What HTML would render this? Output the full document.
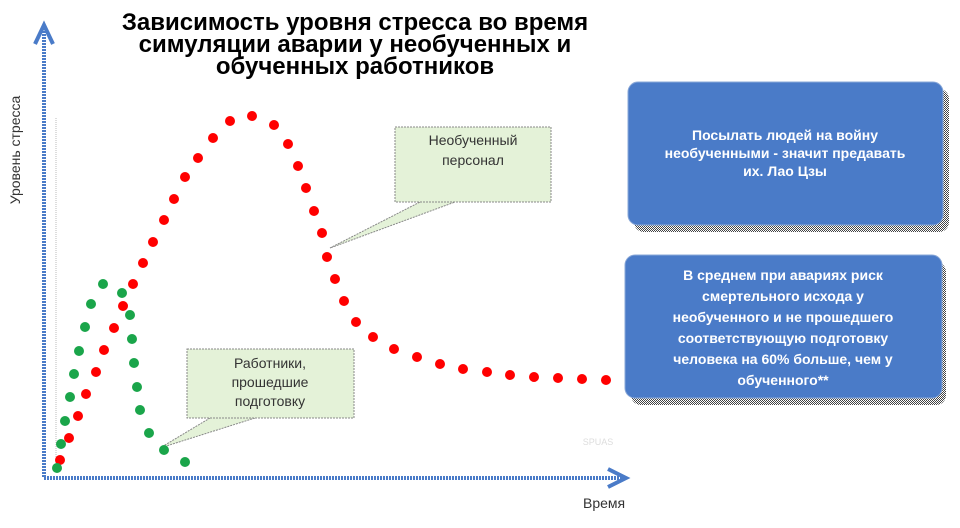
<!DOCTYPE html>
<html><head><meta charset="utf-8"><style>
body{margin:0;background:#fff;width:960px;height:523px;overflow:hidden;font-family:"Liberation Sans",sans-serif}
</style></head><body>
<svg width="960" height="523" xmlns="http://www.w3.org/2000/svg" font-family="Liberation Sans, sans-serif">
<defs>
<pattern id="dith" width="2" height="2" patternUnits="userSpaceOnUse"><rect width="1" height="1" fill="#444"/><rect x="1" y="1" width="1" height="1" fill="#444"/></pattern>
</defs>
<text x="355" y="30" text-anchor="middle" font-size="24" font-weight="bold" fill="#000">Зависимость уровня стресса во время</text>
<text x="355" y="52" text-anchor="middle" font-size="24" font-weight="bold" fill="#000">симуляции аварии у необученных и</text>
<text x="355" y="74" text-anchor="middle" font-size="24" font-weight="bold" fill="#000">обученных работников</text>
<text transform="translate(20,150) rotate(-90)" text-anchor="middle" font-size="14" fill="#333">Уровень стресса</text>
<text x="583" y="508" font-size="14" fill="#333">Время</text>
<line x1="56" y1="118" x2="56" y2="470" stroke="#bbb" stroke-width="1" stroke-dasharray="1,1"/>
<line x1="44" y1="28" x2="44" y2="478" stroke="#4a7bc8" stroke-width="4" stroke-dasharray="2,1"/>
<line x1="44" y1="478" x2="622" y2="478" stroke="#4a7bc8" stroke-width="4" stroke-dasharray="2,1"/>
<polyline points="35,44 44,25 53,44" fill="none" stroke="#4a7bc8" stroke-width="4"/>
<polyline points="608,469 626,478 608,487" fill="none" stroke="#4a7bc8" stroke-width="4"/>
<polygon points="420,202 455,202 330,248" fill="#e4f2d8" stroke="#888" stroke-dasharray="2,1"/>
<rect x="395" y="127" width="156" height="75" fill="#e4f2d8" stroke="#888" stroke-dasharray="2,1"/>
<text x="473" y="145" text-anchor="middle" font-size="14" fill="#333">Необученный</text>
<text x="473" y="165" text-anchor="middle" font-size="14" fill="#333">персонал</text>
<polygon points="210,418 255,418 160,448" fill="#e4f2d8" stroke="#888" stroke-dasharray="2,1"/>
<rect x="187" y="349" width="167" height="69" fill="#e4f2d8" stroke="#888" stroke-dasharray="2,1"/>
<text x="270" y="368" text-anchor="middle" font-size="14" fill="#333">Работники,</text>
<text x="270" y="387" text-anchor="middle" font-size="14" fill="#333">прошедшие</text>
<text x="270" y="406" text-anchor="middle" font-size="14" fill="#333">подготовку</text>
<text x="598" y="445" text-anchor="middle" font-size="9" fill="#ddd">SPUAS</text>
<rect x="634" y="89" width="315" height="143" rx="10" fill="url(#dith)"/>
<rect x="628" y="82" width="315" height="143" rx="10" fill="#4a7bc8" stroke="#8aa8d8"/>
<g font-size="14" font-weight="bold" fill="#fff" text-anchor="middle">
<text x="785" y="140">Посылать людей на войну</text>
<text x="785" y="158">необученными - значит предавать</text>
<text x="785" y="176">их. Лао Цзы</text>
</g>
<rect x="631" y="262" width="315" height="143" rx="10" fill="url(#dith)"/>
<rect x="625" y="255" width="317" height="143" rx="10" fill="#4a7bc8" stroke="#8aa8d8"/>
<g font-size="14" font-weight="bold" fill="#fff" text-anchor="middle">
<text x="783" y="280">В среднем при авариях риск</text>
<text x="783" y="301">смертельного исхода у</text>
<text x="783" y="322">необученного и не прошедшего</text>
<text x="783" y="343">соответствующую подготовку</text>
<text x="783" y="364">человека на 60% больше, чем у</text>
<text x="783" y="385">обученного**</text>
</g>
<g fill="#f00">
<circle cx="60" cy="460" r="5"/><circle cx="69" cy="438" r="5"/><circle cx="78" cy="416" r="5"/><circle cx="86" cy="394" r="5"/><circle cx="96" cy="372" r="5"/><circle cx="104" cy="350" r="5"/><circle cx="114" cy="328" r="5"/><circle cx="123" cy="306" r="5"/><circle cx="133" cy="284" r="5"/><circle cx="143" cy="263" r="5"/><circle cx="153" cy="242" r="5"/><circle cx="164" cy="220" r="5"/><circle cx="174" cy="199" r="5"/><circle cx="185" cy="177" r="5"/><circle cx="198" cy="158" r="5"/><circle cx="213" cy="138" r="5"/><circle cx="230" cy="121" r="5"/><circle cx="252" cy="116" r="5"/><circle cx="274" cy="125" r="5"/><circle cx="288" cy="144" r="5"/><circle cx="298" cy="166" r="5"/><circle cx="306" cy="188" r="5"/><circle cx="314" cy="211" r="5"/><circle cx="322" cy="233" r="5"/><circle cx="327" cy="257" r="5"/><circle cx="335" cy="279" r="5"/><circle cx="344" cy="301" r="5"/><circle cx="356" cy="322" r="5"/><circle cx="373" cy="337" r="5"/><circle cx="394" cy="349" r="5"/><circle cx="417" cy="357" r="5"/><circle cx="440" cy="364" r="5"/><circle cx="463" cy="369" r="5"/><circle cx="487" cy="372" r="5"/><circle cx="510" cy="375" r="5"/><circle cx="534" cy="377" r="5"/><circle cx="558" cy="378" r="5"/><circle cx="582" cy="379" r="5"/><circle cx="606" cy="380" r="5"/>
</g>
<g fill="#1aa54a">
<circle cx="57" cy="468" r="5"/><circle cx="61" cy="444" r="5"/><circle cx="65" cy="421" r="5"/><circle cx="70" cy="397" r="5"/><circle cx="74" cy="374" r="5"/><circle cx="79" cy="351" r="5"/><circle cx="85" cy="327" r="5"/><circle cx="91" cy="304" r="5"/><circle cx="103" cy="284" r="5"/><circle cx="122" cy="293" r="5"/><circle cx="130" cy="315" r="5"/><circle cx="132" cy="339" r="5"/><circle cx="134" cy="363" r="5"/><circle cx="137" cy="387" r="5"/><circle cx="140" cy="410" r="5"/><circle cx="149" cy="433" r="5"/><circle cx="164" cy="450" r="5"/><circle cx="185" cy="462" r="5"/>
</g>
</svg>
</body></html>
